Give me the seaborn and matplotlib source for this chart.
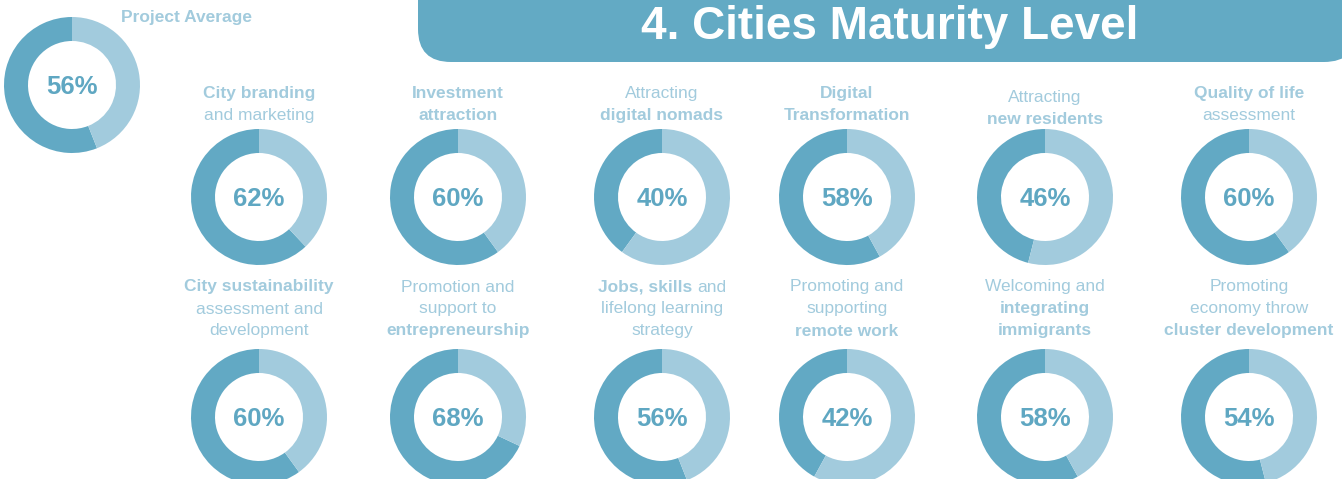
import matplotlib
matplotlib.use("Agg")
import matplotlib.pyplot as plt
from matplotlib.patches import FancyBboxPatch
import seaborn as sns

sns.set_theme(style="white")
plt.rcParams['font.family'] = ['Liberation Sans', 'DejaVu Sans']

# ---------------------------------------------------------------------------
# data

title = "4. Cities Maturity Level"
average_label = "Project Average"
project_average = 56

# *...* marks the bold part of a line
city_labels = [
    ["*City branding*", "and marketing"],
    ["*Investment*", "*attraction*"],
    ["Attracting", "*digital nomads*"],
    ["*Digital*", "*Transformation*"],
    ["Attracting", "*new residents*"],
    ["*Quality of life*", "assessment"],
    ["*City sustainability*", "assessment and", "development"],
    ["Promotion and", "support to", "*entrepreneurship*"],
    ["*Jobs, skills* and", "lifelong learning", "strategy"],
    ["Promoting and", "supporting", "*remote work*"],
    ["Welcoming and", "*integrating*", "*immigrants*"],
    ["Promoting", "economy throw", "*cluster development*"],
]
city_scores = [62, 60, 40, 58, 46, 60, 60, 68, 56, 42, 58, 54]

# ---------------------------------------------------------------------------
# layout (pixels)

W, H = 1342, 479
col_x = [259, 458, 662, 847, 1045, 1249]
row_y = [197, 417]
label_top = [93, 287]
line_gap = 22
R = 68
ring = 24

dark = "#62a9c4"
light = "#a2cbdd"
label_color = "#a2cbdd"
pct_color = "#5fa7c2"

fig = plt.figure(figsize=(W / 100, H / 100), dpi=100)
base = fig.add_axes([0, 0, 1, 1])
base.set_xlim(0, W)
base.set_ylim(H, 0)
base.axis('off')

# title banner
banner = FancyBboxPatch((418, -60), 1357 - 418, 122,
                        boxstyle="round,pad=0,rounding_size=33",
                        facecolor="#63aac4", edgecolor='none')
base.add_patch(banner)
base.text(890, 39, title, color='white', fontsize=33, fontweight='bold',
          ha='center', va='baseline')

renderer = fig.canvas.get_renderer()


def draw_line(cx, y, line, size=12.5):
    # split into plain / bold pieces and centre the whole line on cx
    parts = line.split('*')
    pieces = []
    for i, p in enumerate(parts):
        if p.strip():
            pieces.append((p.strip(), i % 2 == 1))
    space = 0.28 * size * 100 / 72
    texts = []
    total = 0
    for txt, bold in pieces:
        t = base.text(0, y, txt, color=label_color, fontsize=size,
                      fontweight='bold' if bold else 'normal',
                      ha='left', va='center')
        w = t.get_window_extent(renderer).width
        texts.append((t, w))
        total += w
    total += space * (len(texts) - 1)
    x = cx - total / 2
    for t, w in texts:
        t.set_x(x)
        x += w + space


def donut(cx, cy, value):
    ax = fig.add_axes([(cx - R) / W, 1 - (cy + R) / H, 2 * R / W, 2 * R / H])
    ax.pie([value, 100 - value], colors=[dark, light], startangle=90,
           counterclock=True, radius=1,
           wedgeprops=dict(width=ring / R, edgecolor='none', linewidth=0))
    ax.set_xlim(-1, 1)
    ax.set_ylim(-1, 1)
    ax.set_aspect('equal')
    ax.axis('off')
    ax.text(0, 0, f"{value}%", color=pct_color, fontsize=18.5,
            fontweight='bold', ha='center', va='center_baseline')


# project average
donut(72, 85, project_average)
base.text(121, 17, average_label, color=label_color, fontsize=12.5,
          fontweight='bold', ha='left', va='center')

# cities
for i, (lines, score) in enumerate(zip(city_labels, city_scores)):
    row, col = divmod(i, 6)
    cx = col_x[col]
    cy = row_y[row]
    y0 = label_top[row]
    if len(lines) == 2 and lines[0] == "Attracting" and "residents" in lines[1]:
        y0 += 4
    for k, line in enumerate(lines):
        draw_line(cx, y0 + k * line_gap, line)
    donut(cx, cy, score)

fig.savefig("out.png", dpi=100)
